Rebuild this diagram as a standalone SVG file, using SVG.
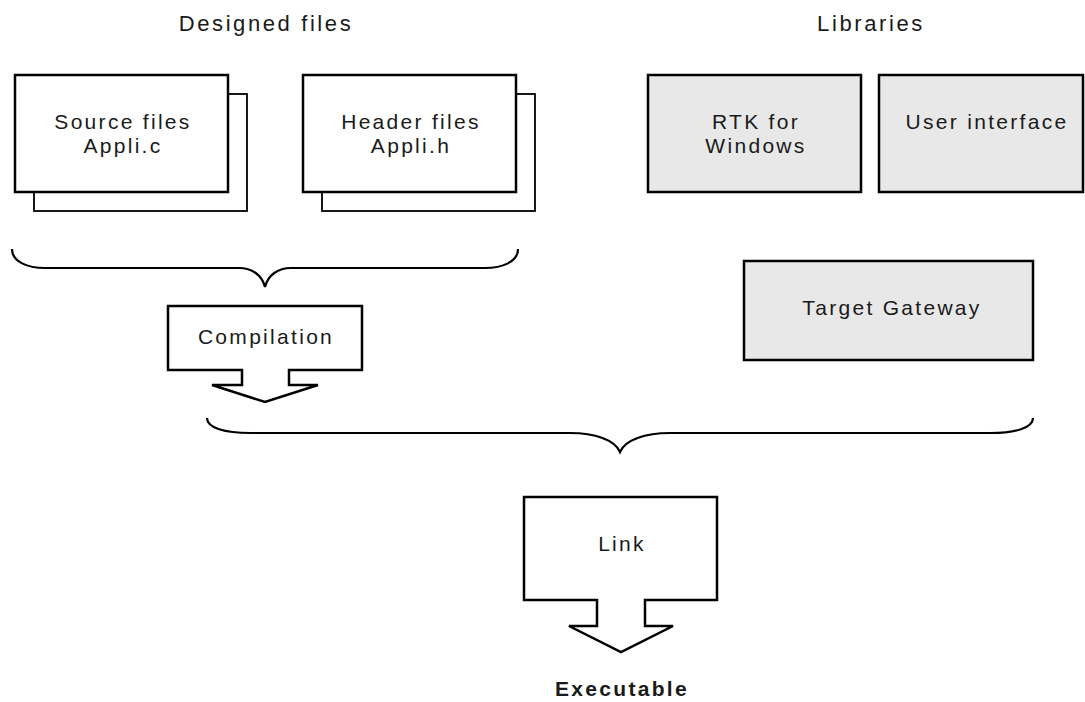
<svg xmlns="http://www.w3.org/2000/svg" width="1085" height="702" viewBox="0 0 1085 702">
<style>
text{font-family:"Liberation Sans",Arial,sans-serif;fill:#1a1a1a;text-anchor:middle}
.t{font-size:21px;letter-spacing:2.3px}
.h{font-size:22px;letter-spacing:2.6px}
.b{font-size:21px;font-weight:bold;letter-spacing:2.3px}
.front{fill:#fff;stroke:#000;stroke-width:2.5}
.back{fill:#fff;stroke:#000;stroke-width:1.8}
.lib{fill:#e8e8e8;stroke:#000;stroke-width:2.5}
.arrow{fill:#fff;stroke:#000;stroke-width:2.5;stroke-linejoin:miter}
.brace{fill:none;stroke:#000;stroke-width:2.2}
</style>
<g id="title-designed"><text class="h" x="266" y="31">Designed files</text></g>
<g id="title-libraries"><text class="h" x="871" y="31">Libraries</text></g>
<g id="source-files">
<rect class="back" x="34" y="94" width="213" height="117"/>
<rect class="front" x="15" y="75" width="213" height="117"/>
<text class="t" x="123" y="129">Source files</text>
<text class="t" x="123" y="153">Appli.c</text>
</g>
<g id="header-files">
<rect class="back" x="322" y="94" width="213" height="117"/>
<rect class="front" x="303" y="75" width="213" height="117"/>
<text class="t" x="411" y="129">Header files</text>
<text class="t" x="411" y="153">Appli.h</text>
</g>
<g id="rtk">
<rect class="lib" x="648" y="75" width="213" height="117"/>
<text class="t" x="756" y="129">RTK for</text>
<text class="t" x="756" y="153">Windows</text>
</g>
<g id="user-interface">
<rect class="lib" x="879" y="75" width="204" height="117"/>
<text class="t" x="987" y="129">User interface</text>
</g>
<g id="target-gateway">
<rect class="lib" x="744" y="261" width="289" height="99"/>
<text class="t" x="892" y="315">Target Gateway</text>
</g>
<g id="connectors">
<path class="brace" d="M12,249 C12,262 28,268 45,268 L239,268 C252,268 262,275 265,287 C268,275 278,268 291,268 L485,268 C502,268 518,262 518,249"/>
<path class="brace" d="M207,418 C207,428 225,433 250,433 L570,433 C595,433 615,440 620,452 C625,440 645,433 670,433 L990,433 C1015,433 1033,428 1033,418"/>
</g>
<g id="compilation">
<path class="arrow" d="M168,306 L362,306 L362,370 L289,370 L289,385 L318,385 L265,402 L212,385 L242,385 L242,370 L168,370 Z"/>
<text class="t" x="266" y="344">Compilation</text>
</g>
<g id="link">
<path class="arrow" d="M524,497 L717,497 L717,600 L645,600 L645,626 L673,626 L621,652 L569,626 L597,626 L597,600 L524,600 Z"/>
<text class="t" x="622" y="551">Link</text>
</g>
<g id="executable"><text class="b" x="622" y="696">Executable</text></g>
</svg>
